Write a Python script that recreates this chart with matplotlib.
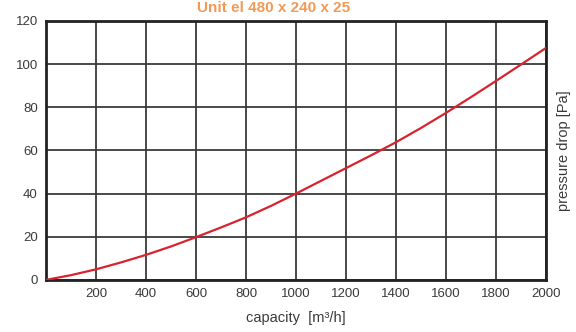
import matplotlib
matplotlib.use("Agg")
import matplotlib.pyplot as plt

plt.rcParams['font.family'] = ['Liberation Sans', 'DejaVu Sans']

# capacity [m3/h] vs pressure drop [Pa]
capacity = [0, 100, 200, 300, 400, 500, 600, 700, 800, 900, 1000,
            1100, 1200, 1300, 1400, 1500, 1600, 1700, 1800, 1900, 2000]
pressure = [0, 2.2, 4.9, 8.1, 11.6, 15.5, 19.8, 24.3, 29.0, 34.3, 40.0,
            45.9, 51.8, 57.7, 63.8, 70.4, 77.4, 84.7, 92.2, 99.8, 107.5]

x_ticks = [0, 200, 400, 600, 800, 1000, 1200, 1400, 1600, 1800, 2000]
x_labels = ["", "200", "400", "600", "800", "1000", "1200", "1400", "1600", "1800", "2000"]
y_ticks = [0, 20, 40, 60, 80, 100, 120]

title = "Unit el 480 x 240 x 25"

fig = plt.figure(figsize=(5.76, 3.32), dpi=100)
ax = fig.add_axes([0.080, 0.157, 0.868, 0.780])

ax.plot(capacity, pressure, color='#d8232e', linewidth=1.6, zorder=3,
        solid_joinstyle='round')

ax.set_xlim(0, 2000)
ax.set_ylim(0, 120)
ax.set_xticks(x_ticks)
ax.set_xticklabels(x_labels)
ax.set_yticks(y_ticks)
ax.grid(True, color='#3a3a3a', linewidth=1.3)
ax.tick_params(length=0, labelsize=9.5, labelcolor='#3a3a3a', pad=6)
for s in ax.spines.values():
    s.set_linewidth(2)
    s.set_color('#222222')

ax.set_xlabel("capacity  [m\u00b3/h]", fontsize=10.5, color='#3a3a3a', labelpad=8)
ax.yaxis.set_label_position('right')
ax.set_ylabel("pressure drop [Pa]", fontsize=10.5, color='#3a3a3a', labelpad=8)

fig.text(0.475, 0.976, title, ha='center', va='center', fontsize=11,
         fontweight='bold', color='#f29a55')

fig.savefig("out.png", dpi=100)
